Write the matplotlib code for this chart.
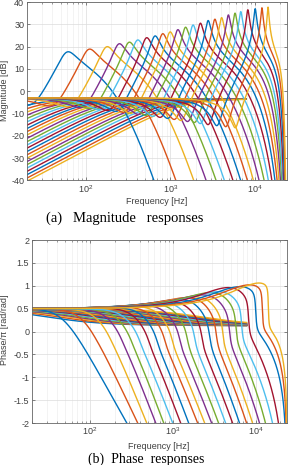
import numpy as np
import matplotlib.pyplot as plt
from matplotlib.ticker import LogLocator, NullFormatter, FormatStrFormatter

plt.rcParams['axes.unicode_minus'] = False
plt.rcParams['font.family'] = ['Liberation Sans', 'DejaVu Sans']

FS = 48000.0
COLORS = ['#0072BD', '#D95319', '#EDB120', '#7E2F8E', '#77AC30', '#4DBEEE', '#A2142F']

# peak of each channel
peak_hz = [59, 107, 174, 244, 321, 405, 518, 652, 805, 986, 1218, 1503,
           1845, 2256, 2788, 3350, 4027, 4842, 5810, 6790, 8240, 10070, 12100, 14300]
peak_db = [17.7, 18.9, 20.0, 21.3, 22.0, 23.0, 24.0, 24.8, 25.8, 26.6, 27.6, 28.7,
           29.7, 30.5, 31.7, 32.3, 33.0, 34.2, 35.0, 35.7, 36.5, 37.0, 37.4, 37.7]
# top of the phase hump just below each peak (phase/pi)
bump_top = [0.45, 0.47, 0.48, 0.49, 0.50, 0.50, 0.51, 0.52, 0.53, 0.55, 0.57, 0.60,
            0.63, 0.65, 0.70, 0.74, 0.76, 0.80, 0.85, 0.87, 0.96, 0.98, 1.02, 1.06]
# frequency where each phase curve leaves the plot at -2
cross_hz = [279, 378, 486, 624, 779, 1000, 1248, 1560, 2000, 2432, 2951, 3581,
            4353, 5284, 6412, 7798, 9204, 11170, 13180, 16030, 18920, 22650, 23400, 23800]
# level of the rising high-pass lines at the left edge (20 Hz)
edge_db = [-6.3, -7.8, -9.3, -10.7, -12.2, -13.7, -15.2, -16.7, -18.1, -19.6, -21.1, -22.6,
           -24.1, -25.5, -27.0, -28.5, -30.0, -31.5, -32.9, -34.4, -35.9, -37.4, -38.9, -40.3]

PLATEAU = -3.0
PLATEAU_B = -3.5
F_END_B = 7800.0


def warp(f):
    return FS / np.pi * np.tan(np.pi * f / FS)


def channel_mag(s, fp, fz, qz, qp):
    num = s**2 + s * fz / qz + fz**2
    den = s**2 + s * fp / qp + fp**2
    h = num / den * (fp**2 / fz**2) / (1 + s / (4.2 * fp))**6
    return PLATEAU + 20 * np.log10(np.abs(h))


def knee(fw, fk):
    # ~0 below fk, log10(fw/fk) above
    return np.log10(1 + (fw / fk) ** 4) / 4


def channel_phase(fw, fp, fz, qp, w, b, a):
    zang = np.angle(fz**2 - fw**2 + 1j * fw * fz / 0.6) / np.pi
    pang = np.angle(fp**2 - fw**2 + 1j * fw * fp / qp) / np.pi
    return 0.5 + b * zang - w * pang - a * knee(fw, 0.8 * fp)


def main():
    freq = np.logspace(np.log10(20), np.log10(23990), 5000)
    fw = warp(freq)
    s = 1j * fw
    n = len(peak_hz)
    rz = np.linspace(0.40, 0.30, n)
    qz = np.geomspace(1.5, 5.0, n)
    q_ph = np.geomspace(3.0, 20.0, n)
    w_ph = np.linspace(0.0, 1.0, n)

    fig = plt.figure(figsize=(2.95, 4.65), dpi=100)
    ax1 = fig.add_axes([27 / 295, 1 - 180.5 / 465, 260 / 295, 178.5 / 465])
    ax2 = fig.add_axes([32 / 295, 1 - 423 / 465, 255 / 295, 183 / 465])

    # high-pass lines
    for k in range(n):
        c = COLORS[k % 7]
        fb = 20 * np.sqrt(10 ** ((PLATEAU_B - edge_db[k]) / 10) - 1)
        sel = freq <= F_END_B
        fr = freq[sel]
        r = fr / fb
        mag_b = PLATEAU_B + 20 * np.log10(r / np.sqrt(1 + r**2))
        ph_b = 0.13 + 0.37 * (1 - 2 * np.arctan(r * 0.6) / np.pi)
        ax1.plot(fr, mag_b, color=c, lw=1.0)
        ax2.plot(fr, ph_b, color=c, lw=1.0)

    # resonant channels
    for k in range(n):
        c = COLORS[k % 7]
        fp = warp(peak_hz[k])
        fz = rz[k] * fp
        lo, hi = 0.3, 500.0
        for _ in range(45):
            mid = np.sqrt(lo * hi)
            if channel_mag(s, fp, fz, qz[k], mid).max() < peak_db[k]:
                lo = mid
            else:
                hi = mid
        qp = np.sqrt(lo * hi)
        mag = channel_mag(s, fp, fz, qz[k], qp)

        fcw = warp(cross_hz[k])
        below = freq < peak_hz[k]
        b, a = 0.0, 0.0
        for _ in range(3):
            p0 = channel_phase(fcw, fp, fz, q_ph[k], w_ph[k], b, 0.0)
            a = max(p0 + 2, 0) / knee(fcw, 0.8 * fp)
            if bump_top[k] > 0.5:
                blo, bhi = 0.0, 2.0
                for _ in range(30):
                    bm = 0.5 * (blo + bhi)
                    pm = channel_phase(fw, fp, fz, q_ph[k], w_ph[k], bm, a)[below].max()
                    if pm < bump_top[k]:
                        blo = bm
                    else:
                        bhi = bm
                b = 0.5 * (blo + bhi)
        ph = channel_phase(fw, fp, fz, q_ph[k], w_ph[k], b, a)
        ax1.plot(freq, mag, color=c, lw=1.0)
        ax2.plot(freq, ph, color=c, lw=1.0)

    for ax in (ax1, ax2):
        ax.set_xscale('log')
        ax.set_xlim(20, 24000)
        ax.xaxis.set_major_locator(LogLocator(base=10, numticks=10))
        ax.xaxis.set_minor_locator(LogLocator(base=10, subs=np.arange(2, 10), numticks=20))
        ax.xaxis.set_minor_formatter(NullFormatter())
        ax.grid(True, which='major', color='#dcdcdc', lw=0.5)
        ax.grid(True, which='minor', axis='x', color='#eeeeee', lw=0.5)
        ax.set_axisbelow(True)
        ax.tick_params(which='both', direction='in', top=True, right=True,
                       labelsize=6.5, labelcolor='#404040', color='#555555', pad=2)
        ax.tick_params(which='major', length=2.5, width=0.5)
        ax.tick_params(which='minor', length=1.5, width=0.4)
        for sp in ax.spines.values():
            sp.set_color('#666666')
            sp.set_linewidth(0.6)

    ax1.set_ylim(-40, 40)
    ax1.set_yticks(np.arange(-40, 41, 10))
    ax2.set_ylim(-2, 2)
    ax2.set_yticks(np.arange(-2, 2.01, 0.5))
    ax2.yaxis.set_major_formatter(FormatStrFormatter('%g'))

    fig.text(157 / 295, 1 - 202 / 465, 'Frequency [Hz]', ha='center', va='center',
             fontsize=6.5, color='#404040')
    fig.text(159 / 295, 1 - 446 / 465, 'Frequency [Hz]', ha='center', va='center',
             fontsize=6.5, color='#404040')
    fig.text(5 / 295, 1 - 90 / 465, 'Magnitude [dB]', ha='center', va='center',
             rotation=90, fontsize=6.5, color='#404040')
    fig.text(5 / 295, 1 - 330 / 465, 'Phase/\u03c0 [rad/rad]', ha='center', va='center',
             rotation=90, fontsize=6.5, color='#404040')
    fig.text(124.5 / 295, 1 - 218 / 465, '(a)   Magnitude   responses', ha='center',
             va='center', family='Liberation Serif', fontsize=10.5)
    fig.text(146 / 295, 1 - 459 / 465, '(b)  Phase  responses', ha='center', va='center',
             family='Liberation Serif', fontsize=10)

    fig.savefig('out.png', dpi=100)


if __name__ == '__main__':
    main()
